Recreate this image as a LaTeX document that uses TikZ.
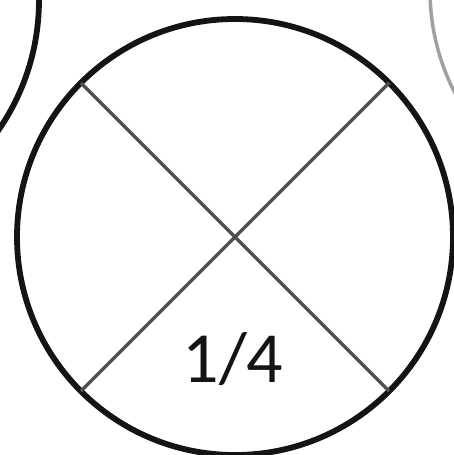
\documentclass[tikz,border=0pt]{standalone}
\usepackage{fontspec}
\setmainfont{Carlito}
\usepackage{tikz}
\usetikzlibrary{positioning}
\definecolor{trazo}{RGB}{20,20,20}
\definecolor{corte}{RGB}{80,80,80}
\definecolor{veciño}{RGB}{160,160,160}

\begin{document}
\begin{tikzpicture}[
    x=1pt, y=-1pt,
    disco/.style={
        circle,
        draw=trazo,
        line width=5.8pt,
        inner sep=0pt,
        outer sep=0pt,
        minimum size=436pt
    },
    corte/.style={draw=corte, line width=3.4pt},
    fraccion/.style={font=\fontsize{72}{72}\selectfont, text=black!92}
]
\useasboundingbox (0,0) rectangle (453,455);

% ---------------- Veciños ----------------
\draw[trazo, line width=5.8pt] (-190,0) circle (229);
\draw[veciño, line width=3.5pt] (655,-10) circle (225);

% ---------------- Disco ----------------
\node[disco] (disco) at (235,237) {};

\draw[corte] (disco.135) -- (disco.-45);
\draw[corte] (disco.45) -- (disco.-135);

\node[fraccion] (cuarto) at (233,359) {1/4};

\end{tikzpicture}
\end{document}
